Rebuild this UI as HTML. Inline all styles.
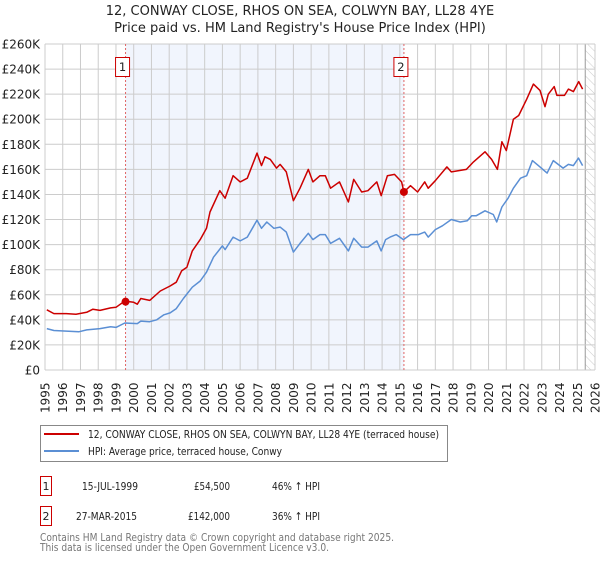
<!DOCTYPE html>
<html><head><meta charset="utf-8"><style>
body{margin:0;background:#fff;width:600px;height:560px;overflow:hidden;font-family:"DejaVu Sans","Liberation Sans",sans-serif;}
svg text{font-family:"DejaVu Sans","Liberation Sans",sans-serif;}
</style></head><body>
<svg id="chart" width="600" height="560" viewBox="0 0 600 560" xmlns="http://www.w3.org/2000/svg">
<defs>
<pattern id="hatch" width="6" height="6" patternUnits="userSpaceOnUse" patternTransform="rotate(-45)">
<line x1="0" y1="0" x2="0" y2="6" stroke="#ccc" stroke-width="1"/>
</pattern>
</defs>
<text x="300" y="15" text-anchor="middle" font-size="13" fill="#222">12, CONWAY CLOSE, RHOS ON SEA, COLWYN BAY, LL28 4YE</text>
<text x="300" y="32" text-anchor="middle" font-size="13" fill="#222">Price paid vs. HM Land Registry's House Price Index (HPI)</text>
<g id="plot"></g>
<g>
<rect x="40.5" y="425.5" width="407" height="36" fill="#fff" stroke="#888"/>
<line x1="44" y1="434" x2="79" y2="434" stroke="#cc0000" stroke-width="2"/>
<text x="88" y="438" font-size="11" fill="#222" textLength="351" lengthAdjust="spacingAndGlyphs">12, CONWAY CLOSE, RHOS ON SEA, COLWYN BAY, LL28 4YE (terraced house)</text>
<line x1="44" y1="451" x2="79" y2="451" stroke="#5b8fd4" stroke-width="2"/>
<text x="88" y="455" font-size="11" fill="#222" textLength="194" lengthAdjust="spacingAndGlyphs">HPI: Average price, terraced house, Conwy</text>
</g>
<g font-size="11" fill="#222">
<rect x="40.5" y="476.5" width="11" height="19" fill="#fff" stroke="#cc0000"/>
<text x="46" y="490" text-anchor="middle">1</text>
<text x="82" y="490" textLength="56" lengthAdjust="spacingAndGlyphs">15-JUL-1999</text>
<text x="194" y="490" textLength="36" lengthAdjust="spacingAndGlyphs">£54,500</text>
<text x="272" y="490" textLength="48" lengthAdjust="spacingAndGlyphs">46% ↑ HPI</text>
<rect x="40.5" y="506.5" width="11" height="19" fill="#fff" stroke="#cc0000"/>
<text x="46" y="520" text-anchor="middle">2</text>
<text x="76" y="520" textLength="61" lengthAdjust="spacingAndGlyphs">27-MAR-2015</text>
<text x="188" y="520" textLength="42" lengthAdjust="spacingAndGlyphs">£142,000</text>
<text x="272" y="520" textLength="48" lengthAdjust="spacingAndGlyphs">36% ↑ HPI</text>
</g>
<text x="40" y="541" font-size="11" fill="#777" textLength="354" lengthAdjust="spacingAndGlyphs">Contains HM Land Registry data © Crown copyright and database right 2025.</text>
<text x="40" y="551" font-size="11" fill="#777" textLength="289" lengthAdjust="spacingAndGlyphs">This data is licensed under the Open Government Licence v3.0.</text>
</svg>
<script>
const yearTicks = [1995,1996,1997,1998,1999,2000,2001,2002,2003,2004,2005,2006,2007,2008,2009,2010,2011,2012,2013,2014,2015,2016,2017,2018,2019,2020,2021,2022,2023,2024,2025,2026];
const valueTicks = [0,20,40,60,80,100,120,140,160,180,200,220,240,260];
const hpiYears = [1995.1,1995.5,1996.2,1996.9,1997.35,1998.1,1998.7,1999.0,1999.5,2000.2,2000.4,2000.9,2001.3,2001.7,2002.05,2002.4,2002.8,2003.3,2003.75,2004.1,2004.5,2005.0,2005.15,2005.6,2006.0,2006.4,2006.95,2007.2,2007.5,2007.9,2008.25,2008.6,2009.0,2009.37,2009.84,2010.1,2010.5,2010.8,2011.1,2011.6,2012.1,2012.4,2012.85,2013.2,2013.7,2013.95,2014.2,2014.45,2014.8,2015.2,2015.6,2016.05,2016.4,2016.6,2017.0,2017.4,2017.9,2018.4,2018.8,2019.05,2019.3,2019.8,2020.27,2020.46,2020.75,2021.1,2021.4,2021.8,2022.15,2022.47,2022.9,2023.3,2023.65,2024.2,2024.5,2024.78,2025.07,2025.3];
const hpiValues = [33,31.5,31,30.5,32,33,34.5,34,37.5,37,39,38.5,40,44,45.5,49,57,66,71,78,90,99,96,106,103,106,119.5,113,118,113,114,110,94,101,109,104,108,108,101,105,95,105,98,98,103,95,104,106,108,104,108,108,110,106,112,115,120,118,119,123,123,127,124,118,130,137,145,153,155,167,162,157,167,161,164,163,169,163];
const priceYears = [1995.1,1995.5,1996.2,1996.75,1997.35,1997.7,1998.1,1998.7,1999.0,1999.5,2000.0,2000.2,2000.4,2000.9,2001.5,2002.05,2002.4,2002.7,2003.0,2003.3,2003.75,2004.1,2004.3,2004.85,2005.15,2005.6,2006.0,2006.4,2006.95,2007.2,2007.4,2007.7,2008.05,2008.25,2008.6,2009.0,2009.37,2009.84,2010.1,2010.5,2010.8,2011.1,2011.6,2012.1,2012.4,2012.85,2013.2,2013.7,2013.95,2014.3,2014.7,2015.1,2015.23,2015.6,2016.0,2016.4,2016.6,2017.0,2017.65,2017.9,2018.75,2019.15,2019.8,2020.17,2020.5,2020.75,2021.0,2021.4,2021.7,2022.15,2022.53,2022.9,2023.18,2023.37,2023.7,2023.85,2024.28,2024.5,2024.78,2025.08,2025.3];
const priceValues = [48,45,45,44.5,46,48.5,47.5,49.5,50,55,54,52.5,57,55.5,63,67,70,79,82,95,104,113,126,143,137,155,150,153,173,163,170,168,161,164,158,135,145,160,150,155,155,145,150,134,152,142,143,150,139,155,156,150,142,147,142,150,145,151,162,158,160,166,174,168,160,182,175,200,203,216,228,223,210,220,226,219,219,224,222,230,224];
const saleYears = [1999.54, 2015.23];
const saleValues = [54.5, 142];
const saleLabels = ["1","2"];

const NS = "http://www.w3.org/2000/svg";
const X0 = 45, X1 = 595, Y0 = 370, Y1 = 44;
const xs = y => X0 + (y - 1995) / (2026 - 1995) * (X1 - X0);
const ys = v => Y0 - v / 260 * (Y0 - Y1);
const plot = document.getElementById('plot');
function mk(tag, attrs, parent) {
  const e = document.createElementNS(NS, tag);
  for (const k in attrs) e.setAttribute(k, attrs[k]);
  (parent || plot).appendChild(e);
  return e;
}
const shade = mk('rect', {x: xs(saleYears[0]), y: Y1, width: xs(saleYears[1]) - xs(saleYears[0]), height: Y0 - Y1, fill: '#f1f5fd'});


const hx = xs(2025.45);
const hatch = mk('rect', {x: hx, y: Y1, width: X1 - hx, height: Y0 - Y1, fill: 'url(#hatch)'});


mk('line', {x1: hx, y1: Y1, x2: hx, y2: Y0, stroke: '#999', 'stroke-width': 1});
yearTicks.forEach(yr => {
  const x = xs(yr);
  const g = mk('line', {x1: x, y1: Y1, x2: x, y2: Y0, stroke: '#cccccc', 'stroke-width': 1});
  
  
  const t = mk('text', {x: 0, y: 0, transform: `translate(${x + 4.5},413) rotate(-90)`, 'font-size': 12, fill: '#222'});
  
  
  t.textContent = yr;
});
valueTicks.forEach(v => {
  const y = ys(v);
  const g = mk('line', {x1: X0, y1: y, x2: X1, y2: y, stroke: '#cccccc', 'stroke-width': 1});
  
  
  const t = mk('text', {x: 40, y: y + 4.5, 'text-anchor': 'end', 'font-size': 12, fill: '#222'});
  
  
  t.textContent = v === 0 ? '£0' : '£' + v + 'K';
});
saleYears.forEach((yr, i) => {
  const x = xs(yr);
  const l = mk('line', {x1: x, y1: Y1, x2: x, y2: Y0, stroke: '#e06666', 'stroke-width': 1, 'stroke-dasharray': '2,2'});
  
  
});
function path(xsArr, vsArr, color, name) {
  const d = xsArr.map((yr, i) => (i ? 'L' : 'M') + xs(yr).toFixed(1) + ',' + ys(vsArr[i]).toFixed(1)).join('');
  const p = mk('path', {d: d, fill: 'none', stroke: color, 'stroke-width': 1.5, 'stroke-linejoin': 'round'});
  
  
}
path(hpiYears, hpiValues, '#5b8fd4', 'hpi-line');
path(priceYears, priceValues, '#cc0000', 'property-price-line');
saleYears.forEach((yr, i) => {
  const c = mk('circle', {cx: xs(yr), cy: ys(saleValues[i]), r: 4, fill: '#cc0000'});
  
  
  const bx = xs(yr) + 4 - 14;
  const r = mk('rect', {x: bx, y: 57.5, width: 14, height: 19, fill: '#fff', stroke: '#cc0000'});
  
  
  const t = mk('text', {x: bx + 7, y: 71, 'text-anchor': 'middle', 'font-size': 11.5, fill: '#222'});
  
  
  t.textContent = saleLabels[i];
});
</script>
</body></html>
